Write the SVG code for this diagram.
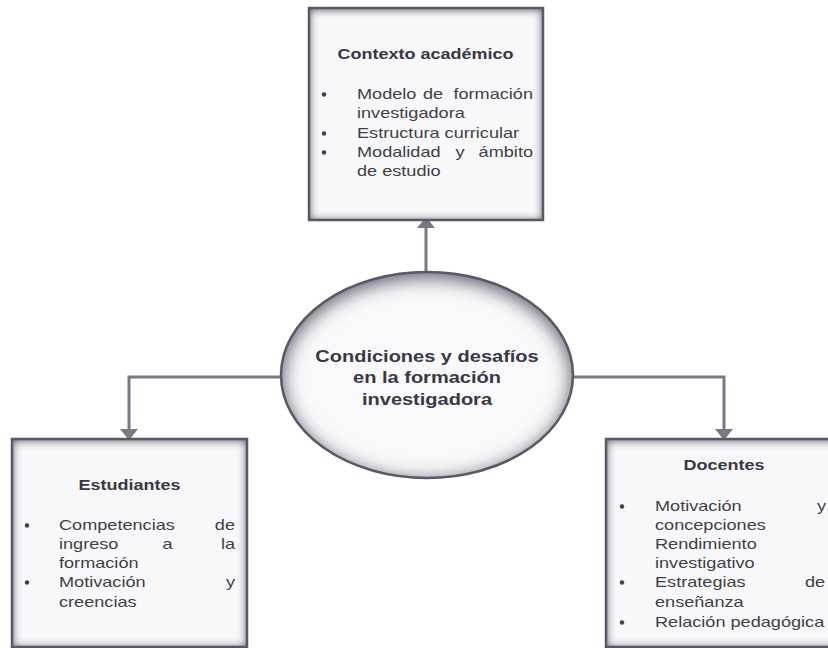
<svg xmlns="http://www.w3.org/2000/svg" width="828" height="648" viewBox="0 0 828 648">
<style>
.t{font-family:"Liberation Sans",Arial,sans-serif;font-size:14.5px;fill:#3f3f47}
.h{font-family:"Liberation Sans",Arial,sans-serif;font-size:14.4px;font-weight:bold;fill:#3a3746}
.c{font-family:"Liberation Sans",Arial,sans-serif;font-size:16px;font-weight:bold;fill:#3a3746}
.m{text-anchor:middle}
.e{text-anchor:end}
.box{fill:#f8f8fa;filter:url(#inner)}
.edge{fill:none;stroke:#5a5766;stroke-width:2.5}
.dot{fill:#3f3f47}
.conn{fill:none;stroke:#7b7886;stroke-width:3;marker-end:url(#arr)}
</style>
<defs>
<filter id="inner" x="-10%" y="-10%" width="120%" height="120%">
<feFlood flood-color="#6f6b7e" result="c"/>
<feComposite in="c" in2="SourceAlpha" operator="out" result="inv"/>
<feGaussianBlur in="inv" stdDeviation="5" result="blur"/>
<feOffset in="blur" dy="1" result="off"/>
<feComposite in="off" in2="SourceAlpha" operator="in" result="sh"/>
<feMerge><feMergeNode in="SourceGraphic"/><feMergeNode in="sh"/><feMergeNode in="sh"/></feMerge>
</filter>
<filter id="innerE" x="-10%" y="-10%" width="120%" height="120%">
<feFlood flood-color="#6f6b7e" result="c"/>
<feComposite in="c" in2="SourceAlpha" operator="out" result="inv"/>
<feGaussianBlur in="inv" stdDeviation="10" result="blur"/>
<feOffset in="blur" dy="4" result="off"/>
<feComposite in="off" in2="SourceAlpha" operator="in" result="sh"/>
<feMerge><feMergeNode in="SourceGraphic"/><feMergeNode in="sh"/><feMergeNode in="sh"/></feMerge>
</filter>
<marker id="arr" markerUnits="userSpaceOnUse" markerWidth="12" markerHeight="18" refX="0" refY="8" orient="auto" viewBox="0 0 10 16">
<path d="M0,0 L10,8 L0,16 Z" fill="#7b7886"/>
</marker>
</defs>
<rect width="828" height="648" fill="#ffffff"/>

<g id="connectors">
<path class="conn" d="M426,272 V228"/>
<path class="conn" d="M281,377 H129 V429"/>
<path class="conn" d="M573,377 H724 V429"/>
</g>

<g id="contexto">
<rect class="box" x="309" y="8" width="234" height="212"/>
<rect class="edge" x="309" y="8" width="234" height="212"/>
<text class="h m" transform="translate(425.5,59) scale(1.25,1)">Contexto académico</text>
<circle class="dot" cx="324" cy="94.5" r="2.2"/>
<text class="t" transform="translate(357,99) scale(1.25,1)">Modelo</text>
<text class="t" transform="translate(423,99) scale(1.25,1)">de</text>
<text class="t e" transform="translate(533,99) scale(1.25,1)">formación</text>
<text class="t" transform="translate(357,118) scale(1.25,1)">investigadora</text>
<circle class="dot" cx="324" cy="133.5" r="2.2"/>
<text class="t" transform="translate(357,138) scale(1.25,1)">Estructura curricular</text>
<circle class="dot" cx="324" cy="152.5" r="2.2"/>
<text class="t" transform="translate(357,157) scale(1.25,1)">Modalidad</text>
<text class="t m" transform="translate(460,157) scale(1.25,1)">y</text>
<text class="t e" transform="translate(533,157) scale(1.25,1)">ámbito</text>
<text class="t" transform="translate(357,176) scale(1.25,1)">de estudio</text>
</g>

<g id="centro">
<ellipse cx="427" cy="375" rx="146" ry="103" fill="#f9f9fb" filter="url(#innerE)"/>
<ellipse cx="427" cy="375" rx="146" ry="103" fill="none" stroke="#5a5766" stroke-width="2.5"/>
<text class="c m" transform="translate(427,362) scale(1.25,1)">Condiciones y desafíos</text>
<text class="c m" transform="translate(427,383) scale(1.25,1)">en la formación</text>
<text class="c m" transform="translate(427,405) scale(1.25,1)">investigadora</text>
</g>

<g id="estudiantes">
<rect class="box" x="12" y="439" width="235" height="208"/>
<rect class="edge" x="12" y="439" width="235" height="208"/>
<text class="h m" transform="translate(129.5,490) scale(1.25,1)">Estudiantes</text>
<circle class="dot" cx="27" cy="525.5" r="2.2"/>
<text class="t" transform="translate(59,530) scale(1.25,1)">Competencias</text>
<text class="t e" transform="translate(235,530) scale(1.25,1)">de</text>
<text class="t" transform="translate(59,549) scale(1.25,1)">ingreso</text>
<text class="t m" transform="translate(167.5,549) scale(1.25,1)">a</text>
<text class="t e" transform="translate(235,549) scale(1.25,1)">la</text>
<text class="t" transform="translate(59,568) scale(1.25,1)">formación</text>
<circle class="dot" cx="27" cy="582.5" r="2.2"/>
<text class="t" transform="translate(59,587) scale(1.25,1)">Motivación</text>
<text class="t e" transform="translate(235,587) scale(1.25,1)">y</text>
<text class="t" transform="translate(59,607) scale(1.25,1)">creencias</text>
</g>

<g id="docentes">
<rect class="box" x="606" y="439" width="235" height="208"/>
<rect class="edge" x="606" y="439" width="235" height="208"/>
<text class="h m" transform="translate(724,470) scale(1.25,1)">Docentes</text>
<circle class="dot" cx="622" cy="506.5" r="2.2"/>
<text class="t" transform="translate(655,511) scale(1.25,1)">Motivación</text>
<text class="t" transform="translate(817,511) scale(1.25,1)">y</text>
<text class="t" transform="translate(655,530) scale(1.25,1)">concepciones</text>
<text class="t" transform="translate(655,549) scale(1.25,1)">Rendimiento</text>
<text class="t" transform="translate(655,568) scale(1.25,1)">investigativo</text>
<circle class="dot" cx="622" cy="582.5" r="2.2"/>
<text class="t" transform="translate(655,587) scale(1.25,1)">Estrategias</text>
<text class="t" transform="translate(805,587) scale(1.25,1)">de</text>
<text class="t" transform="translate(655,607) scale(1.25,1)">enseñanza</text>
<circle class="dot" cx="622" cy="622.5" r="2.2"/>
<text class="t" transform="translate(655,627) scale(1.25,1)">Relación pedagógica</text>
</g>
</svg>
